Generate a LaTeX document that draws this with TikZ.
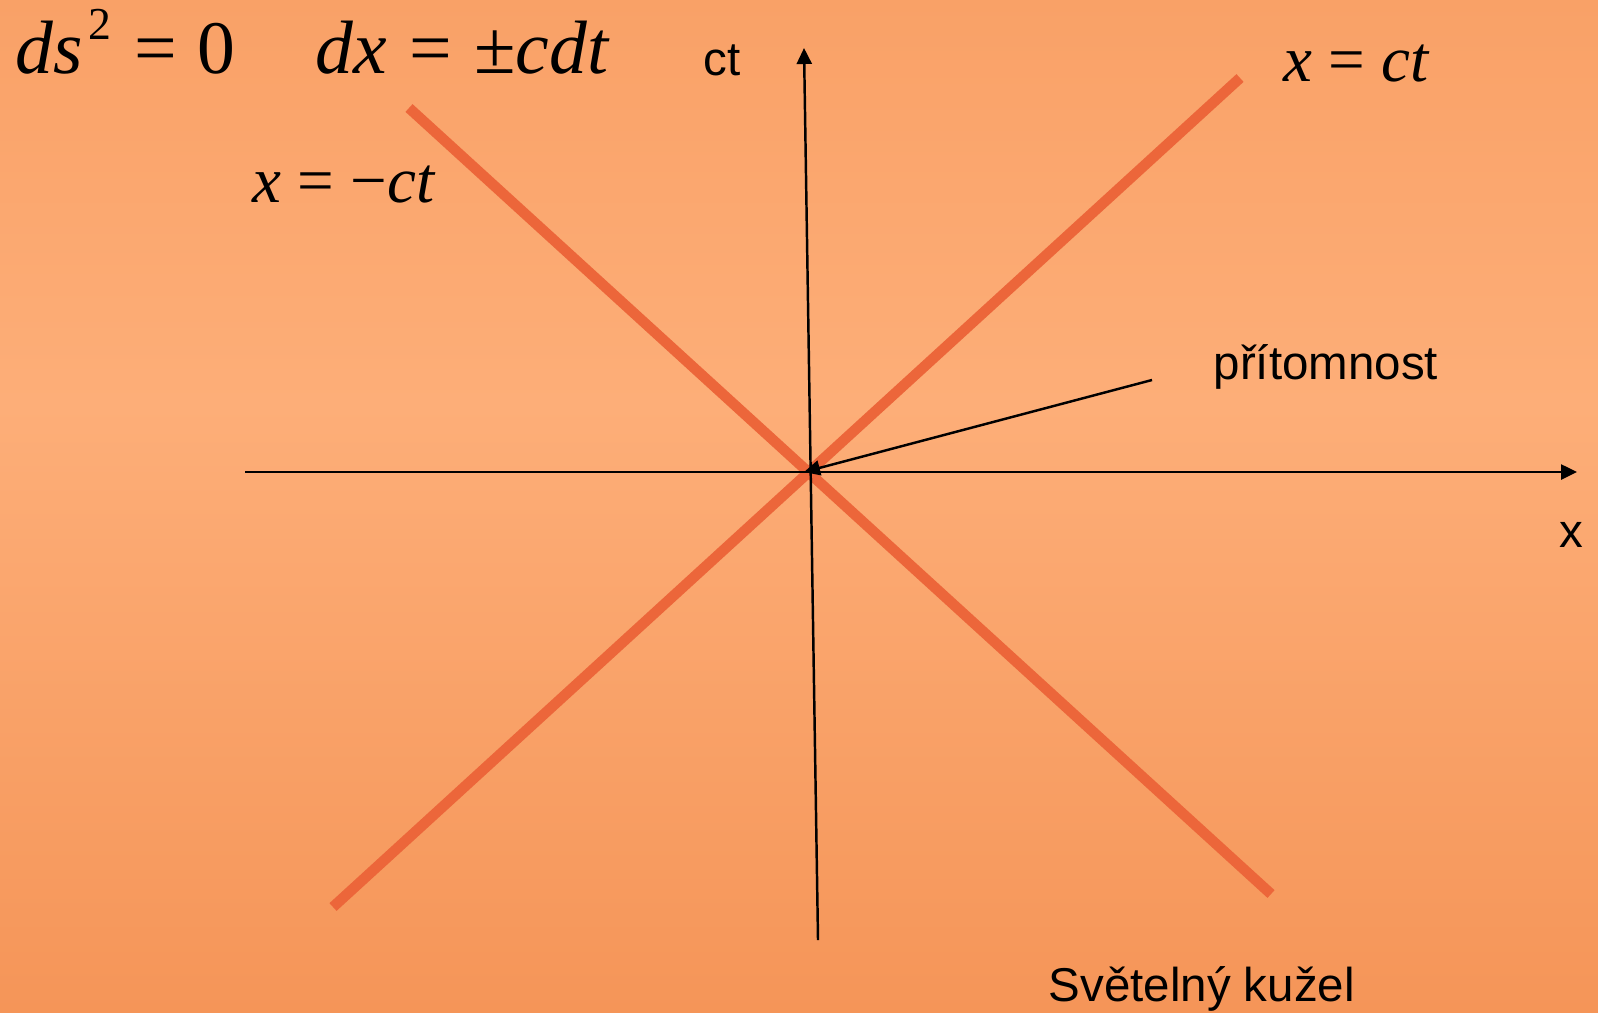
\documentclass[tikz,border=0pt]{standalone}
\usepackage{fontspec}
\setsansfont{Liberation Sans}
\newfontfamily\tnrfont{Liberation Serif}
\usetikzlibrary{arrows.meta}
\definecolor{clrbgtop}{HTML}{F9A167}
\definecolor{clrbgmid}{HTML}{FDAE78}
\definecolor{clrbgbot}{HTML}{F59558}
\definecolor{clrcone}{HTML}{EC663A}
\definecolor{clrtext}{HTML}{000000}
\pgfdeclareverticalshading{bgshade}{100bp}{color(0bp)=(clrbgbot); color(25bp)=(clrbgbot); color(55bp)=(clrbgmid); color(75bp)=(clrbgtop); color(100bp)=(clrbgtop)}

\begin{document}
\begin{tikzpicture}[
    x=0.01cm, y=-0.01cm,
    >={Triangle[length=0.16cm, width=0.15cm]},
    every node/.style={inner sep=0, anchor=base west},
    cone/.style={draw=clrcone, line width=0.105cm},
    axisline/.style={->, draw=black, line width=0.7pt},
    lbl/.style={font=\sffamily\fontsize{13.5}{16}\selectfont, text=clrtext},
    eqn/.style={font=\tnrfont\fontsize{18.5}{22}\selectfont, text=clrtext},
    bigeqn/.style={font=\tnrfont\fontsize{21.5}{26}\selectfont, text=clrtext},
]
\useasboundingbox (0,0) rectangle (1598,1012);
\shade[shading=bgshade] (0,0) rectangle (1598,1012);
% end points
\coordinate (c_xl) at (245,472);
\coordinate (c_xr) at (1577,472);
\coordinate (c_tb) at (818,940);
\coordinate (c_tt) at (804,48);
\coordinate (c_a1) at (333,907);
\coordinate (c_a2) at (1240,78);
\coordinate (c_b1) at (409,108);
\coordinate (c_b2) at (1271,894);
\coordinate (c_o) at (804,472);
\coordinate (c_p) at (1152,380);
% light cone
\draw[cone] (c_a1) -- (c_a2);
\draw[cone] (c_b1) -- (c_b2);
% axes
\draw[axisline] (c_xl) -- (c_xr);
\draw[axisline] (c_tb) -- (c_tt);
\draw[axisline] (c_p) -- (c_o);
% texts
\node[bigeqn] (n_1) at (15,73) {\textit{ds}\hspace{0.08em}\raisebox{0.44em}{\fontsize{13}{13}\selectfont 2}\hspace{0.3em}=\hspace{0.27em}0};
\node[bigeqn] (n_2) at (315,73) {\textit{dx}\hspace{0.3em}=\hspace{0.29em}±\textit{cdt}};
\node[lbl] (n_3) at (703,75) {ct};
\node[eqn] (n_4) at (1283,81) {\textit{x} = \textit{ct}};
\node[eqn] (n_5) at (252,202) {\textit{x} = −\textit{ct}};
\node[lbl] (n_6) at (1213,379) {přítomnost};
\node[lbl] (n_7) at (1559,547) {x};
\node[lbl] (n_8) at (1048,1001) {Světelný kužel};
\end{tikzpicture}
\end{document}
